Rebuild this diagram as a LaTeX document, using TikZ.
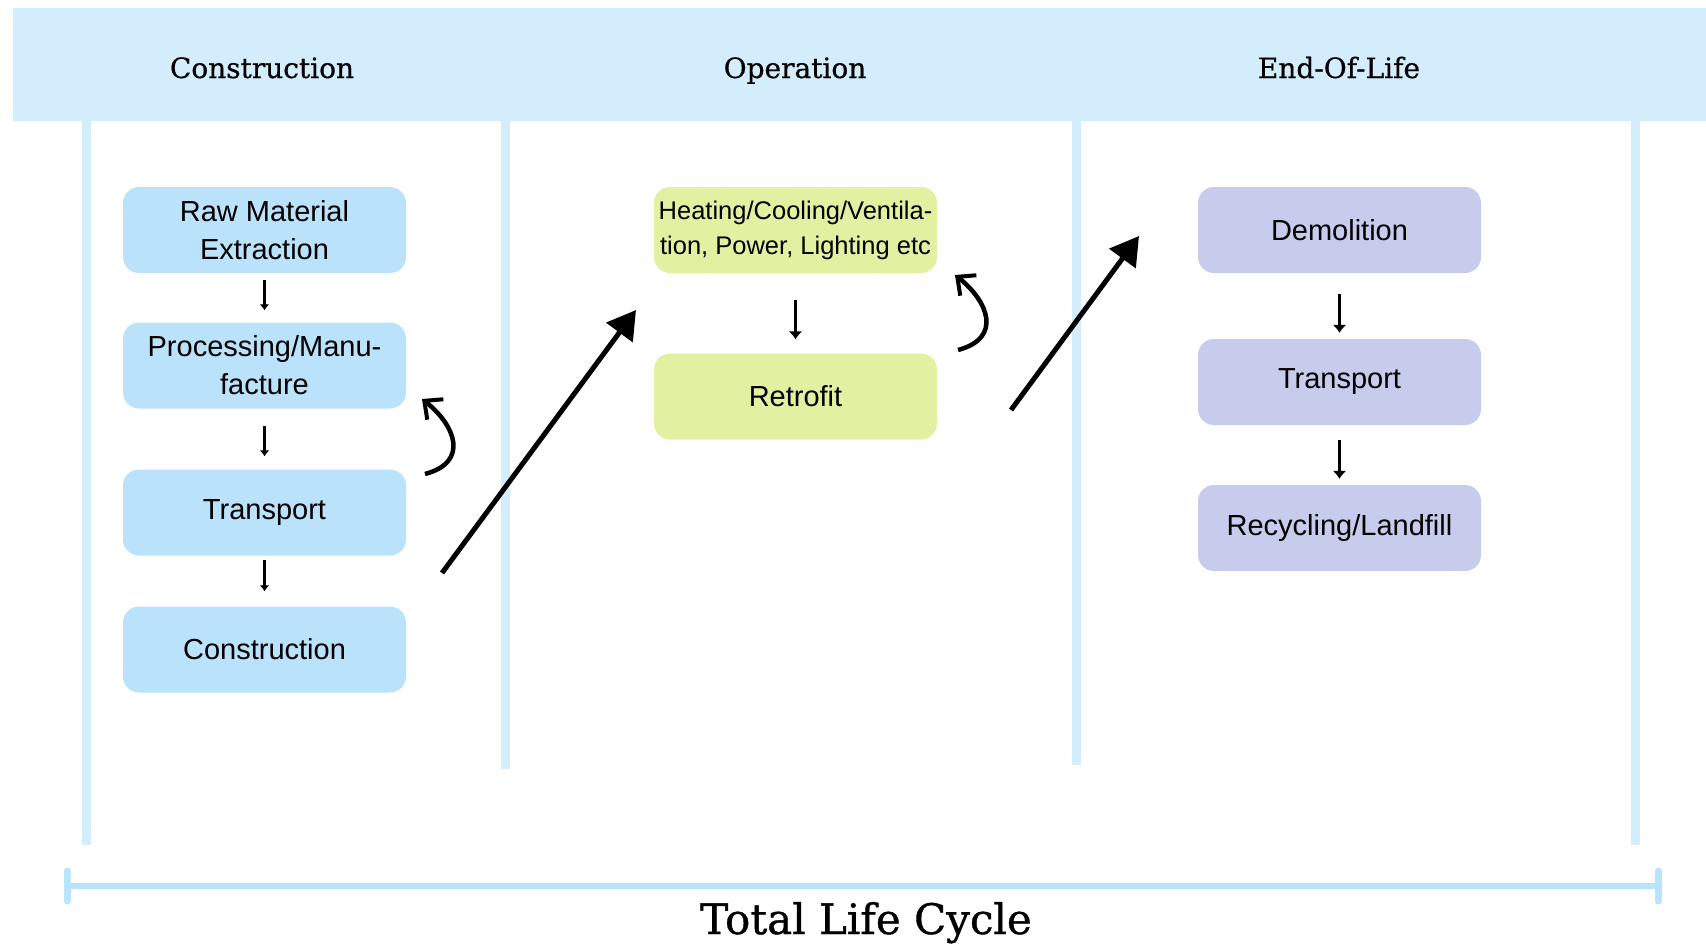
\documentclass[tikz,border=0pt]{standalone}
\usepackage{fontspec}
\setmainfont{DejaVu Serif}
\newfontfamily\headfont[FakeBold=0.6]{DejaVu Serif}
\newfontfamily\titlefont[FakeBold=0.9]{DejaVu Serif}
\newfontfamily\boxfont{Liberation Sans}
\usetikzlibrary{arrows.meta}
\definecolor{headbg}{HTML}{D3EDFD}
\definecolor{barcol}{HTML}{BAE3FC}
\definecolor{boxa}{HTML}{BAE3FB}
\definecolor{boxb}{HTML}{E2F0A1}
\definecolor{boxc}{HTML}{C8CCEC}
\tikzset{
  stagebox/.style={rounded corners=16pt, minimum width=283pt, minimum height=86pt,
    inner sep=0pt, align=center, text=black, font=\boxfont\fontsize{29}{38}\selectfont},
  headlabel/.style={font=\headfont\fontsize{28}{34}\selectfont, text=black, inner sep=0pt, anchor=base},
  smallarr/.style={line width=2.4pt, -{Latex[length=6pt,width=10pt]}},
  medarr/.style={line width=3.5pt, -{Latex[length=8pt,width=14pt]}},
  bigarr/.style={line width=5pt, -{Triangle[length=28pt,width=32pt]}},
  curvarr/.style={line width=4.5pt, -{Straight Barb[length=14pt,width=26pt,line width=4pt]}},
  colline/.style={draw=headbg, line width=9pt},
}
\begin{document}
\begin{tikzpicture}[x=1pt,y=-1pt]
\useasboundingbox (0,0) rectangle (1706,948);
% header band
\fill[headbg] (13,8) rectangle (1706,121);
\node[headlabel] (hcon) at (262,78) {Construction};
\node[headlabel] (hop) at (795,78) {Operation};
\node[headlabel] (heol) at (1339,78) {End-Of-Life};
% column lines
\draw[colline] (86,121) -- (86,845);
\draw[colline] (505,121) -- (505,769);
\draw[colline] (1076,121) -- (1076,765);
\draw[colline] (1635,121) -- (1635,845);
% bottom bar
\draw[barcol, line width=6pt] (67,886) -- (1658,886);
\draw[barcol, line width=7pt, line cap=round] (67,871) -- (67,901);
\draw[barcol, line width=7pt, line cap=round] (1658,871) -- (1658,901);
\node[font=\titlefont\fontsize{42}{48}\selectfont, inner sep=0pt, anchor=base] (total) at (866,934) {Total Life Cycle};
% construction column
\node[stagebox, fill=boxa] (raw) at (264.5,230) {Raw Material\\Extraction};
\node[stagebox, fill=boxa] (proc) at (264.5,365.5) {Processing/Manu-\\facture};
\node[stagebox, fill=boxa] (trans1) at (264.5,512.5) {Transport};
\node[stagebox, fill=boxa] (cons) at (264.5,649.5) {Construction};
% operation column
\node[stagebox, fill=boxb, font=\boxfont\fontsize{25.5}{35}\selectfont] (heat) at (795.5,230) {Heating/Cooling/Ventila-\\tion, Power, Lighting etc};
\node[stagebox, fill=boxb] (retro) at (795.5,396.5) {Retrofit};
% end of life column
\node[stagebox, fill=boxc] (demo) at (1339.5,230) {Demolition};
\node[stagebox, fill=boxc] (trans3) at (1339.5,382) {Transport};
\node[stagebox, fill=boxc] (recyc) at (1339.5,528) {Recycling/Landfill};
% small arrows
\draw[smallarr, shorten <=7pt, shorten >=12pt] (raw) -- (proc);
\draw[smallarr, shorten <=17pt, shorten >=13pt] (proc) -- (trans1);
\draw[smallarr, shorten <=4pt, shorten >=15pt] (trans1) -- (cons);
\draw[medarr, shorten <=27pt, shorten >=14pt] (heat) -- (retro);
\draw[medarr, shorten <=21pt, shorten >=6pt] (demo) -- (trans3);
\draw[medarr, shorten <=15pt, shorten >=6pt] (trans3) -- (recyc);
% big diagonal arrows
\coordinate (d1s) at (442,573);
\coordinate (d1e) at (636,310);
\coordinate (d2s) at (1011,410);
\coordinate (d2e) at (1139,236);
\draw[bigarr] (d1s) -- (d1e);
\draw[bigarr] (d2s) -- (d2e);
% curved return arrows
\coordinate (c1s) at (425,474);
\coordinate (c1e) at (422,399);
\coordinate (c2s) at (958,350);
\coordinate (c2e) at (955,275);
\draw[curvarr] (c1s) .. controls (470,462) and (455,425) .. (c1e);
\draw[curvarr] (c2s) .. controls (1003,338) and (988,301) .. (c2e);
\end{tikzpicture}
\end{document}
